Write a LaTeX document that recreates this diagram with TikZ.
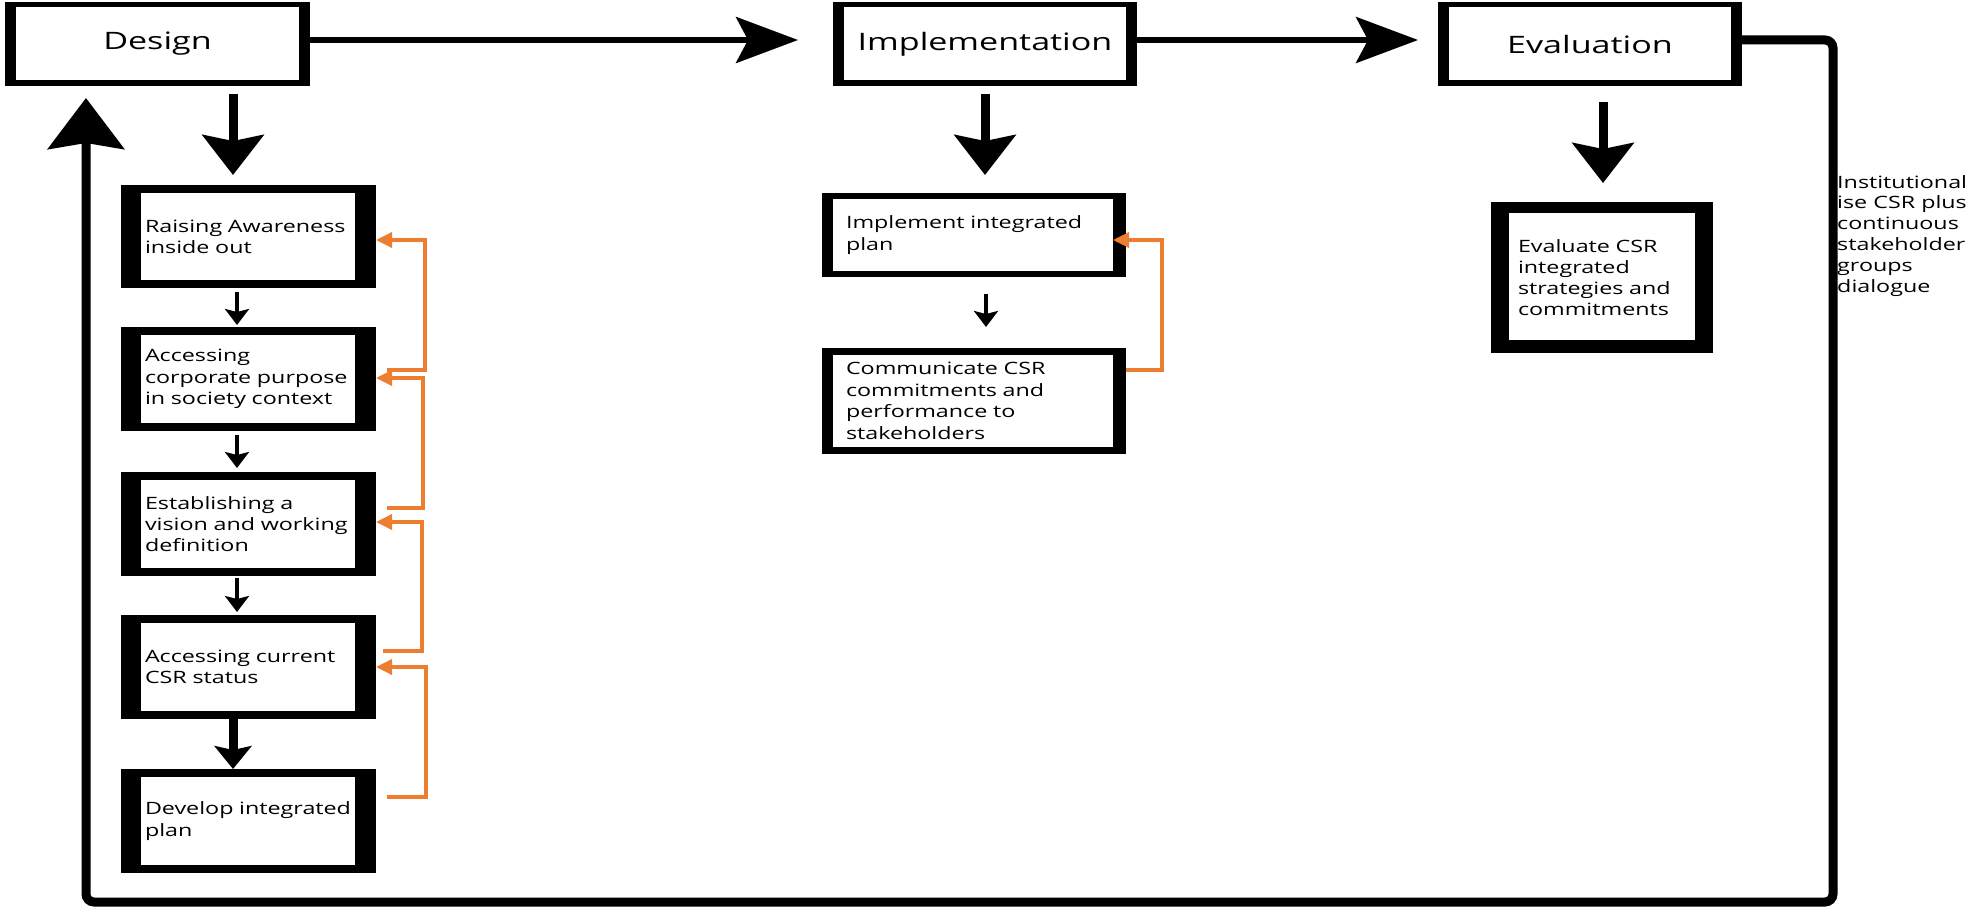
\documentclass[tikz,border=0pt]{standalone}
\usepackage{fontspec}
\setmainfont{Open Sans}
\newfontfamily\topfont{Open Sans}[FakeStretch=1.42]
\newfontfamily\bodyfont{Open Sans}[FakeStretch=1.37]
\usetikzlibrary{arrows.meta}
\definecolor{csrorange}{HTML}{ED7D31}
\begin{document}
\begin{tikzpicture}[x=1pt,y=-1pt,
  bxframe/.style n args={4}{fill=black, draw=none, outer sep=0pt,
    path picture={\fill[white] ([xshift=#1pt,yshift=-#3pt]path picture bounding box.north west)
      rectangle ([xshift=-#2pt,yshift=#4pt]path picture bounding box.south east);}},
  topbox/.style={bxframe={11}{11}{5}{6}, minimum width=305pt, minimum height=84pt,
    anchor=north west, inner sep=0pt, font=\topfont\fontsize{24}{28}\selectfont},
  lbox/.style={bxframe={20}{21}{8}{8}, minimum width=255pt, minimum height=104pt,
    anchor=north west, align=left, text width=207pt, inner xsep=24pt, inner ysep=0pt,
    font=\bodyfont\fontsize{17}{21.3}\selectfont},
  mbox/.style={bxframe={11}{13}{6}{6}, minimum width=304pt, minimum height=84pt,
    anchor=north west, align=left, text width=256pt, inner xsep=24pt, inner ysep=0pt,
    font=\bodyfont\fontsize{17}{21.6}\selectfont},
  ebox/.style={bxframe={18}{18}{11}{13}, minimum width=222pt, minimum height=151pt,
    anchor=north west, align=left, text width=168pt, inner xsep=27pt, inner ysep=0pt,
    font=\bodyfont\fontsize{17}{21}\selectfont},
  plaintext/.style={anchor=north west, align=left, inner sep=0pt,
    font=\bodyfont\fontsize{17}{20.8}\selectfont},
  harrow/.style={line width=5.5pt, -{Stealth[length=62pt,width=46pt,inset=12pt]}},
  bigdown/.style={line width=9pt, -{Stealth[length=40pt,width=61pt,inset=6pt]}},
  middown/.style={line width=9pt, -{Stealth[length=23pt,width=37pt,inset=4pt]}},
  smalldown/.style={line width=4.5pt, -{Stealth[length=16pt,width=24pt,inset=3pt]}},
  looparrow/.style={line width=9pt, rounded corners=8pt, -{Stealth[length=51pt,width=76pt,inset=6pt]}},
  oarrow/.style={draw=csrorange, line width=3.5pt, -{Triangle[length=16pt,width=15pt]}}
]
\fill[white] (0,0) rectangle (1980,907);
\useasboundingbox (0,0) rectangle (1980,907);

% top row
\node[topbox] (design) at (5,2) {Design};
\node[topbox, minimum width=304pt] (implementation) at (833,2) {Implementation};
\node[topbox, minimum width=304pt] (evaluation) at (1438,2) {Evaluation};

% left column
\node[lbox, minimum height=103pt] (b1) at (121,185) {Raising Awareness\\inside out};
\node[lbox] (b2) at (121,327) {Accessing\\corporate purpose\\in society context};
\node[lbox] (b3) at (121,472) {Establishing a\\vision and working\\definition};
\node[lbox] (b4) at (121,615) {Accessing current\\CSR status};
\node[lbox] (b5) at (121,769) {Develop integrated\\plan};

% middle column
\node[mbox] (impl) at (822,193) {Implement integrated\\plan};
\node[mbox, bxframe={11}{13}{7}{7}, minimum height=106pt] (comm) at (822,348)
  {Communicate CSR\\commitments and\\performance to\\stakeholders};

% right column
\node[ebox] (evalbox) at (1491,202) {Evaluate CSR\\integrated\\strategies and\\commitments};
\node[plaintext] (inst) at (1837,175)
  {Institutional\\ise CSR plus\\continuous\\stakeholder\\groups\\dialogue};

% top arrows
\draw[harrow, shorten >=35pt] (design.east |- 0,40) -- (implementation.west |- 0,40);
\draw[harrow, shorten >=20pt] (implementation.east |- 0,40) -- (evaluation.west |- 0,40);

% big down arrows
\draw[bigdown, shorten <=8pt, shorten >=10pt] (design.south -| 233,0) -- (b1.north -| 233,0);
\draw[bigdown, shorten <=8pt, shorten >=18pt] (implementation.south -| 985,0) -- (impl.north -| 985,0);
\draw[bigdown, shorten <=16pt, shorten >=19pt] (evaluation.south -| 1603,0) -- (evalbox.north -| 1603,0);

% loop back
\draw[looparrow, shorten >=12pt] (evaluation.east |- 0,40) -- (1833,40) -- (1833,902)
  -- (86,902) -- (design.south -| 86,0);

% left column arrows
\draw[smalldown, shorten <=4pt, shorten >=2pt] (b1.south -| 237,0) -- (b2.north -| 237,0);
\draw[smalldown, shorten <=4pt, shorten >=4pt] (b2.south -| 237,0) -- (b3.north -| 237,0);
\draw[smalldown, shorten <=2pt, shorten >=3pt] (b3.south -| 237,0) -- (b4.north -| 237,0);
\draw[middown] (b4.south -| 233,0) -- (b5.north -| 233,0);

% middle arrow
\draw[smalldown, shorten <=17pt, shorten >=21pt] (impl.south -| 986,0) -- (comm.north -| 986,0);

% orange feedback arrows
\draw[oarrow, shorten <=11pt] (b2.east |- 0,370) -- ++(49,0) |- (b1.east |- 0,240);
\draw[oarrow, shorten <=11pt] (b3.east |- 0,508) -- ++(47,0) |- (b2.east |- 0,378);
\draw[oarrow, shorten <=7pt] (b4.east |- 0,651) -- ++(46,0) |- (b3.east |- 0,522);
\draw[oarrow, shorten <=11pt] (b5.east |- 0,797) -- ++(50,0) |- (b4.east |- 0,667);
\draw[oarrow, shorten >=-13pt] (comm.east |- 0,370) -- ++(36,0) |- (impl.east |- 0,240);
\end{tikzpicture}
\end{document}
